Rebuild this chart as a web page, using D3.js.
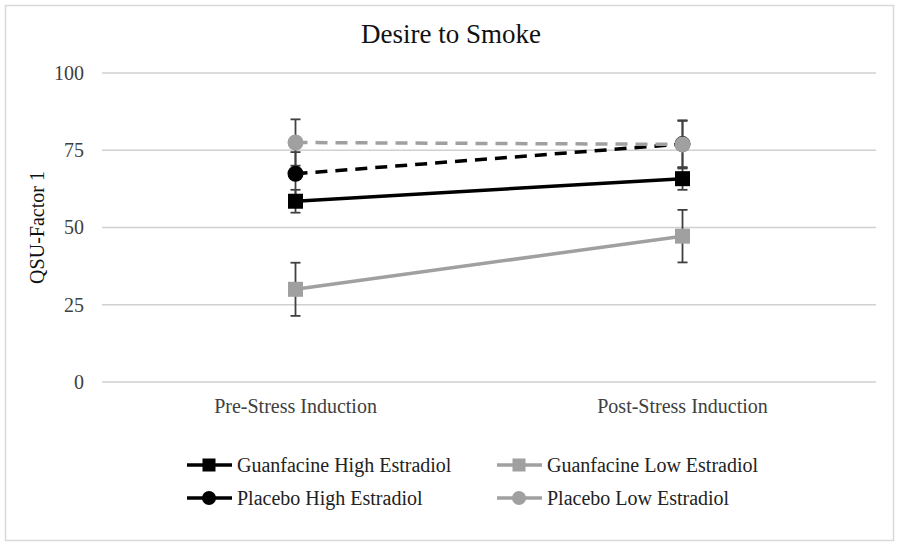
<!DOCTYPE html>
<html>
<head>
<meta charset="utf-8">
<script src="https://d3js.org/d3.v7.min.js"></script>
<style>
  body { margin: 0; background: #fff; }
  svg { font-family: "Liberation Serif", "Times New Roman", serif; }
</style>
</head>
<body>
<div id="chart"></div>
<script>
// datos
const phases = ["Pre-Stress Induction", "Post-Stress Induction"];
const yTicks = [0, 25, 50, 75, 100];
const seriesNames = ["Guanfacine High Estradiol", "Guanfacine Low Estradiol", "Placebo High Estradiol", "Placebo Low Estradiol"];
const guanHigh = [58.5, 65.8];
const guanHighErr = [3.7, 3.6];
const guanLow = [30.0, 47.2];
const guanLowErr = [8.6, 8.5];
const placHigh = [67.4, 77.0];
const placHighErr = [7.0, 7.5];
const placLow = [77.5, 76.9];
const placLowErr = [7.5, 7.8];

const series = [
  { name: seriesNames[2], values: placHigh, err: placHighErr, color: "#000", marker: "circle", dash: "12,8" },
  { name: seriesNames[3], values: placLow, err: placLowErr, color: "#a0a0a0", marker: "circle", dash: "12,8" },
  { name: seriesNames[1], values: guanLow, err: guanLowErr, color: "#a0a0a0", marker: "square", dash: null },
  { name: seriesNames[0], values: guanHigh, err: guanHighErr, color: "#000", marker: "square", dash: null }
];

const W = 900, H = 546;
const margin = { left: 102, right: 24, top: 73, bottom: 164 };
const textColor = "#404040";

const svg = d3.select("#chart").append("svg")
  .attr("width", W).attr("height", H);

// borde exterior
svg.append("rect")
  .attr("x", 5.5).attr("y", 5.5)
  .attr("width", 888).attr("height", 535)
  .attr("fill", "#fff").attr("stroke", "#d9d9d9").attr("stroke-width", 1.5);

svg.append("text")
  .attr("x", 451).attr("y", 43)
  .attr("text-anchor", "middle")
  .attr("font-size", 27)
  .attr("fill", "#111")
  .text("Desire to Smoke");

const x = d3.scaleBand().domain(phases)
  .range([margin.left, W - margin.right]);
const y = d3.scaleLinear().domain([0, 100])
  .range([H - margin.bottom, margin.top]);

// lineas de cuadricula
svg.append("g")
  .selectAll("line")
  .data(yTicks)
  .join("line")
  .attr("x1", margin.left).attr("x2", W - margin.right)
  .attr("y1", d => y(d)).attr("y2", d => y(d))
  .attr("stroke", "#d0d0d0").attr("stroke-width", 1.5);

const yAxis = svg.append("g")
  .attr("transform", `translate(${margin.left},0)`)
  .call(d3.axisLeft(y).tickValues(yTicks).tickSize(0).tickPadding(18));
yAxis.select(".domain").remove();
yAxis.selectAll("text").attr("font-size", 20).attr("fill", textColor)
  .attr("font-family", "Liberation Serif, serif");

const xAxis = svg.append("g")
  .attr("transform", `translate(0,${H - margin.bottom})`)
  .call(d3.axisBottom(x).tickSize(0).tickPadding(17));
xAxis.select(".domain").remove();
xAxis.selectAll("text").attr("font-size", 20).attr("fill", textColor)
  .attr("font-family", "Liberation Serif, serif");

svg.append("text")
  .attr("transform", `translate(44,${y(50)}) rotate(-90)`)
  .attr("text-anchor", "middle")
  .attr("font-size", 20)
  .attr("fill", "#111")
  .text("QSU-Factor 1");

const cx = d => x(d) + x.bandwidth() / 2;

// barras de error
series.forEach(s => {
  const g = svg.append("g");
  phases.forEach((p, i) => {
    const lo = y(s.values[i] - s.err[i]), hi = y(s.values[i] + s.err[i]);
    g.append("line").attr("x1", cx(p)).attr("x2", cx(p))
      .attr("y1", lo).attr("y2", hi)
      .attr("stroke", "#404040").attr("stroke-width", 1.8);
    [lo, hi].forEach(v => g.append("line")
      .attr("x1", cx(p) - 5).attr("x2", cx(p) + 5)
      .attr("y1", v).attr("y2", v)
      .attr("stroke", "#404040").attr("stroke-width", 1.8));
  });
});

const line = d3.line().x(d => cx(d.p)).y(d => y(d.v));

function drawMarker(g, type, px, py, color, size) {
  if (type === "square") {
    g.append("rect").attr("x", px - size / 2).attr("y", py - size / 2)
      .attr("width", size).attr("height", size).attr("fill", color);
  } else {
    g.append("circle").attr("cx", px).attr("cy", py).attr("r", size / 2 + 0.5).attr("fill", color);
  }
}

series.forEach(s => {
  const pts = phases.map((p, i) => ({ p: p, v: s.values[i] }));
  const g = svg.append("g");
  g.append("path").datum(pts)
    .attr("d", line)
    .attr("fill", "none")
    .attr("stroke", s.color).attr("stroke-width", 3.5)
    .attr("stroke-dasharray", s.dash);
  pts.forEach(d => drawMarker(g, s.marker, cx(d.p), y(d.v), s.color, 15));
});

// leyenda
const legendItems = [
  { s: series[3], x: 187, y: 465 },
  { s: series[2], x: 497, y: 465 },
  { s: series[0], x: 187, y: 498 },
  { s: series[1], x: 497, y: 498 }
];
legendItems.forEach(it => {
  const g = svg.append("g");
  g.append("line").attr("x1", it.x).attr("x2", it.x + 45)
    .attr("y1", it.y).attr("y2", it.y)
    .attr("stroke", it.s.color).attr("stroke-width", 3.5);
  drawMarker(g, it.s.marker, it.x + 22, it.y, it.s.color, 13);
  g.append("text").attr("x", it.x + 50).attr("y", it.y + 7)
    .attr("font-size", 20).attr("fill", "#222")
    .text(it.s.name);
});
</script>
</body>
</html>
